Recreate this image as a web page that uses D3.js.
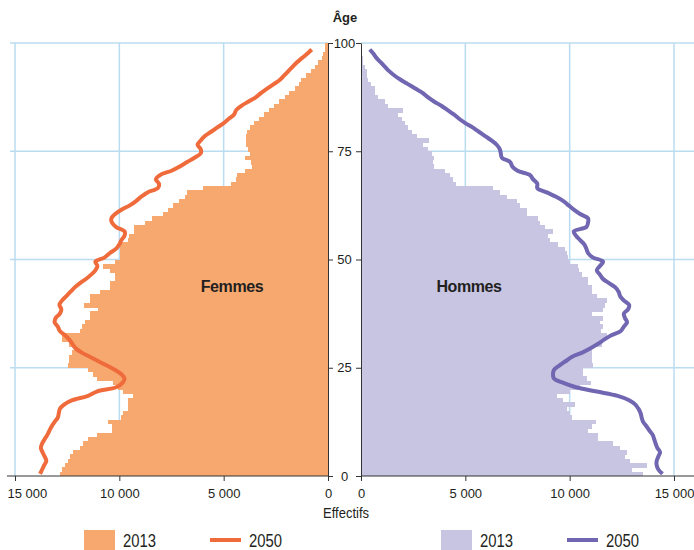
<!DOCTYPE html>
<html>
<head>
<meta charset="utf-8">
<script src="https://cdn.jsdelivr.net/npm/d3@7"></script>
<style>
  html, body { margin: 0; padding: 0; background: #fff; }
  svg { display: block; font-family: "Liberation Sans", Arial, sans-serif; }
</style>
</head>
<body>
<svg id="chart" width="694" height="550"></svg>
<script>
// ---------------- DATA ----------------
const ages = d3.range(0, 100); // single years of age, 0..99

const femmes2013 = [
  12840, 12760, 12600, 12440, 12360, 12200, 11880, 11720, 11480, 11080,
  10360, 10360, 10520, 9930, 9810, 9570, 9570, 9570, 9330, 9810,
  10040, 10280, 11080, 11240, 11480, 12440, 12410, 12410, 12280, 12040,
  12400, 12760, 12760, 11880, 11800, 11640, 11400, 11400, 11000, 11670,
  11400, 11400, 10920, 10440, 10440, 10200, 10200, 10440, 10760, 10200,
  9970, 9970, 9970, 9970, 9570, 9530, 9290, 9290, 8770, 8450,
  7890, 7650, 7440, 7150, 6850, 6740, 6000, 4650, 4400, 4380,
  3980, 3660, 3710, 3980, 3740, 3820, 3930, 3950, 3950, 3900,
  3740, 3550, 3290, 3050, 2810, 2590, 2330, 2060, 1850, 1600,
  1390, 1290, 1050, 830, 620, 460, 300, 220, 144, 144
];

const hommes2013 = [
  13530, 12970, 13690, 12890, 12650, 12730, 12410, 12090, 11370, 11370,
  10890, 11050, 11260, 10090, 10010, 9850, 10250, 9660, 9370, 10010,
  10490, 11000, 10810, 10620, 10620, 11100, 11050, 11050, 11050, 10890,
  11530, 11610, 11800, 11500, 11610, 11450, 11610, 11050, 11610, 11690,
  11770, 11290, 11050, 11050, 10890, 10890, 10570, 10460, 10410, 10010,
  9930, 9850, 9770, 9450, 9060, 8980, 9210, 8820, 8580, 8500,
  7940, 7940, 7620, 7460, 6980, 6660, 6340, 4550, 4420, 4260,
  4020, 3500, 3470, 3510, 3390, 3230, 2990, 3270, 2670, 2430,
  2270, 2110, 1950, 1790, 2030, 1310, 1150, 830, 670, 670,
  460, 350, 300, 270, 190, 110, 80, 30, 0, 0
];

const femmes2050 = [
  13800, 13700, 13600, 13500, 13580, 13680, 13760, 13700, 13580, 13450,
  13350, 13240, 13100, 12950, 12900, 12850, 12650, 12250, 11500, 11080,
  10150, 9850, 9750, 9900, 10200, 10600, 11000, 11400, 11800, 12100,
  12250, 12400, 12600, 12850, 12950, 13100, 13050, 12850, 12780, 12870,
  12750, 12550, 12350, 12150, 11900, 11600, 11350, 11150, 11050, 11150,
  10700, 10450, 10150, 10000, 9900, 9750, 9750, 10150, 10350, 10380,
  10200, 9900, 9500, 9200, 8950, 8650, 8150, 8100, 8250, 8050,
  7500, 7100, 6750, 6400, 6100, 6100, 6250, 6100, 5900, 5600,
  5300, 5000, 4750, 4500, 4400, 4150, 3800, 3450, 3200, 2900,
  2600, 2300, 2100, 1900, 1700, 1500, 1250, 1000, 780
];

const hommes2050 = [
  14450, 14250, 14170, 14170, 14250, 14330, 14200, 14120, 14050, 13980,
  13820, 13680, 13520, 13450, 13400, 13300, 13150, 12850, 12300, 11300,
  10300, 9700, 9250, 9200, 9250, 9500, 9800, 10100, 10600, 11000,
  11350, 11650, 12000, 12450, 12600, 12750, 12650, 12600, 12800, 12850,
  12600, 12420, 12350, 12200, 11900, 11600, 11450, 11300, 11450, 11600,
  11100, 10880, 10800, 10700, 10500, 10300, 10200, 10800, 10880, 10880,
  10500, 10200, 9950, 9700, 9350, 8900, 8450, 8450, 8250, 8100,
  7500, 7250, 7150, 6750, 6700, 6650, 6500, 6250, 5950, 5650,
  5350, 5000, 4700, 4450, 4150, 3850, 3500, 3200, 2950, 2600,
  2250, 1900, 1600, 1350, 1150, 950, 750, 600, 420
];

const ageTicks = [0, 25, 50, 75, 100];
const effTicks = [0, 5000, 10000, 15000];
const gridEff = [5000, 10000, 15000];
const gridAge = [25, 50, 75, 100];
const legendLabels = ["2013", "2050"];
const panelLabels = ["Femmes", "Hommes"];

// ---------------- STYLE ----------------
const C = {
  fBar: "#F7A86F", fLine: "#EF6B3C",
  mBar: "#C7C5E2", mLine: "#7066B1",
  grid: "#BADCF0", axis: "#333333", text: "#231F20"
};

const svg = d3.select("#chart");

const y = d3.scaleLinear().domain([0, 100]).range([476, 43]);
const xF = d3.scaleLinear().domain([0, 15000]).range([328, 15]);
const xM = d3.scaleLinear().domain([0, 15000]).range([361, 674]);

const fmt = d3.formatLocale({decimal: ",", thousands: " ", grouping: [3], currency: ["", " €"]}).format(",");

// ---------------- GRID ----------------
const grid = svg.append("g").attr("stroke", C.grid).attr("stroke-width", 1.5);
gridAge.forEach(a => {
  grid.append("line").attr("x1", 10).attr("x2", xF(0)).attr("y1", y(a)).attr("y2", y(a));
  grid.append("line").attr("x1", xM(0)).attr("x2", 694).attr("y1", y(a)).attr("y2", y(a));
});
gridEff.forEach(v => {
  grid.append("line").attr("x1", xF(v)).attr("x2", xF(v)).attr("y1", y(100)).attr("y2", y(0));
  grid.append("line").attr("x1", xM(v)).attr("x2", xM(v)).attr("y1", y(100)).attr("y2", y(0));
});

// ---------------- BARS ----------------
svg.append("g").attr("shape-rendering", "crispEdges").selectAll("rect")
  .data(ages).join("rect")
  .attr("x", a => xF(femmes2013[a]))
  .attr("width", a => xF(0) - xF(femmes2013[a]))
  .attr("y", a => y(a + 1))
  .attr("height", a => y(a) - y(a + 1) + 0.4)
  .attr("fill", C.fBar);

svg.append("g").attr("shape-rendering", "crispEdges").selectAll("rect")
  .data(ages).join("rect")
  .attr("x", xM(0))
  .attr("width", a => xM(hommes2013[a]) - xM(0))
  .attr("y", a => y(a + 1))
  .attr("height", a => y(a) - y(a + 1) + 0.4)
  .attr("fill", C.mBar);

// ---------------- 2050 LINES ----------------
const lineF = d3.line().x(d => xF(d[1])).y(d => y(d[0] + 0.5)).curve(d3.curveCatmullRom.alpha(0.5));
const lineM = d3.line().x(d => xM(d[1])).y(d => y(d[0] + 0.5)).curve(d3.curveCatmullRom.alpha(0.5));

svg.append("path").datum(femmes2050.map((v, i) => [ages[i], v]))
  .attr("d", lineF).attr("fill", "none").attr("stroke", C.fLine)
  .attr("stroke-width", 4).attr("stroke-linejoin", "round");
svg.append("path").datum(hommes2050.map((v, i) => [ages[i], v]))
  .attr("d", lineM).attr("fill", "none").attr("stroke", C.mLine)
  .attr("stroke-width", 4).attr("stroke-linejoin", "round");

// ---------------- AXES ----------------
function styleAxis(g) {
  g.selectAll("path, line").attr("stroke", C.axis).attr("stroke-width", 1);
  g.selectAll("text").attr("fill", C.text).style("font-size", "13px")
    .style("font-family", "'Liberation Sans', Arial, sans-serif");
}

// left vertical axis (ticks to the right), labels centred between panels
const axL = svg.append("g").attr("transform", `translate(${xF(0)},0)`)
  .call(d3.axisRight(y).tickValues(ageTicks).tickSize(5).tickSizeOuter(0).tickFormat(d3.format("d")));
axL.selectAll("text").attr("x", 344.5 - xF(0)).attr("text-anchor", "middle");
styleAxis(axL);

// right vertical axis (ticks to the left), no labels
const axR = svg.append("g").attr("transform", `translate(${xM(0)},0)`)
  .call(d3.axisLeft(y).tickValues(ageTicks).tickSize(5).tickSizeOuter(0).tickFormat(""));
styleAxis(axR);

// bottom axes
const axBF = svg.append("g").attr("transform", `translate(0,${y(0)})`)
  .call(d3.axisBottom(xF).tickValues(effTicks).tickSize(5).tickPadding(8).tickFormat(fmt));
axBF.select(".domain").remove();
axBF.append("line").attr("x1", 7).attr("x2", xF(0)).attr("y1", 0).attr("y2", 0);
// keep the outermost label inside the frame (as in the reference)
axBF.selectAll(".tick").filter(d => d === 15000).select("text")
  .attr("text-anchor", "start").attr("x", 7 - xF(15000));
styleAxis(axBF);

const axBM = svg.append("g").attr("transform", `translate(0,${y(0)})`)
  .call(d3.axisBottom(xM).tickValues(effTicks).tickSize(5).tickPadding(8).tickFormat(fmt));
axBM.select(".domain").remove();
axBM.append("line").attr("x1", xM(0)).attr("x2", 694).attr("y1", 0).attr("y2", 0);
styleAxis(axBM);

// ---------------- TITLES ----------------
svg.append("text").attr("x", 345).attr("y", 22).attr("text-anchor", "middle")
  .attr("fill", C.text).style("font-size", "13px").style("font-weight", "bold").text("Âge");

svg.append("text").attr("x", 323).attr("y", 518)
  .attr("fill", C.text).style("font-size", "14.5px")
  .attr("textLength", 46).attr("lengthAdjust", "spacingAndGlyphs").text("Effectifs");

svg.append("text").attr("x", 232).attr("y", 292).attr("text-anchor", "middle")
  .attr("fill", C.text).style("font-size", "16px").style("font-weight", "bold")
  .style("letter-spacing", "-0.4px").text(panelLabels[0]);
svg.append("text").attr("x", 469).attr("y", 292).attr("text-anchor", "middle")
  .attr("fill", C.text).style("font-size", "16px").style("font-weight", "bold")
  .style("letter-spacing", "-0.4px").text(panelLabels[1]);

// ---------------- LEGEND ----------------
const legend = [
  {x: 84, color: C.fBar, type: "rect", label: legendLabels[0]},
  {x: 210, color: C.fLine, type: "line", label: legendLabels[1]},
  {x: 441, color: C.mBar, type: "rect", label: legendLabels[0]},
  {x: 567, color: C.mLine, type: "line", label: legendLabels[1]}
];
legend.forEach(l => {
  if (l.type === "rect") {
    svg.append("rect").attr("x", l.x).attr("y", 530).attr("width", 31).attr("height", 22).attr("fill", l.color);
  } else {
    svg.append("line").attr("x1", l.x).attr("x2", l.x + 31).attr("y1", 540).attr("y2", 540)
      .attr("stroke", l.color).attr("stroke-width", 4);
  }
  svg.append("text").attr("x", l.x + 39).attr("y", 547).attr("fill", C.text)
    .style("font-size", "17.5px")
    .attr("textLength", 33).attr("lengthAdjust", "spacingAndGlyphs").text(l.label);
});
</script>
</body>
</html>
